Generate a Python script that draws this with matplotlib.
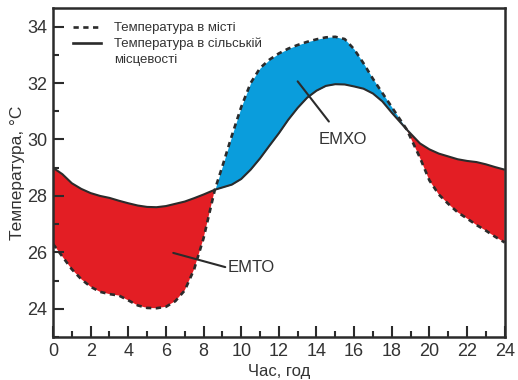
import matplotlib
matplotlib.use("Agg")
import matplotlib.pyplot as plt
from matplotlib.lines import Line2D
from matplotlib.ticker import MultipleLocator

plt.rcParams['font.family'] = ['Liberation Sans', 'DejaVu Sans']

hours = [0, 0.5, 1, 1.5, 2, 2.5, 3, 3.5, 4, 4.5, 5, 5.5, 6, 6.5, 7, 7.5, 8, 8.6,
         9, 9.5, 10, 10.5, 11, 11.5, 12, 12.5, 13, 13.5, 14, 14.5, 15, 15.5, 16,
         16.5, 17, 17.5, 18, 18.8, 19.5, 20, 20.5, 21, 21.5, 22, 22.5, 23, 23.5, 24]

rural = [29.0, 28.77, 28.45, 28.25, 28.1, 28.0, 27.93, 27.83, 27.74, 27.66, 27.61,
         27.6, 27.64, 27.72, 27.8, 27.92, 28.05, 28.22, 28.3, 28.4, 28.6, 28.93,
         29.33, 29.78, 30.22, 30.7, 31.12, 31.48, 31.73, 31.9, 31.96, 31.95, 31.88,
         31.8, 31.63, 31.35, 30.95, 30.35, 29.86, 29.65, 29.5, 29.4, 29.3, 29.24,
         29.2, 29.12, 29.02, 28.93]

urban = [26.3, 25.85, 25.4, 25.05, 24.78, 24.6, 24.52, 24.47, 24.3, 24.12, 24.03,
         24.02, 24.07, 24.27, 24.65, 25.4, 26.5, 28.22, 29.05, 30.13, 31.15, 32.0,
         32.53, 32.83, 33.05, 33.22, 33.35, 33.46, 33.55, 33.62, 33.64, 33.56, 33.2,
         32.7, 32.15, 31.65, 31.15, 30.35, 29.35, 28.55, 28.05, 27.72, 27.42, 27.2,
         26.97, 26.77, 26.55, 26.35]

x_ticks = [0, 2, 4, 6, 8, 10, 12, 14, 16, 18, 20, 22, 24]
y_ticks = [24, 26, 28, 30, 32, 34]

label_urban = "Температура в місті"
label_rural = "Температура в сільській"
label_rural_2 = "місцевості"
label_emto = "ЕМТО"
label_emxo = "ЕМХО"

RED = "#E31E24"
BLUE = "#0A9DDC"
DARK = "#2b2b2b"
TXT = "#333333"

fig = plt.figure(figsize=(5.18, 3.80), dpi=100)
ax = fig.add_axes([0.1023, 0.1132, 0.872, 0.8657])

ax.fill_between(hours, urban, rural, where=[u <= r for u, r in zip(urban, rural)],
                interpolate=True, color=RED, linewidth=0)
ax.fill_between(hours, urban, rural, where=[u >= r for u, r in zip(urban, rural)],
                interpolate=True, color=BLUE, linewidth=0)
ax.plot(hours, rural, color=DARK, lw=1.5, solid_capstyle='butt')
ax.plot(hours, urban, color=DARK, lw=1.9, linestyle=(0, (2.0, 1.7)))

ax.set_xlim(0, 24)
ax.set_ylim(23.0, 34.66)
ax.set_xticks(x_ticks)
ax.set_yticks(y_ticks)
ax.xaxis.set_minor_locator(MultipleLocator(1))
ax.yaxis.set_minor_locator(MultipleLocator(1))
ax.tick_params(axis='both', which='major', direction='in', length=8, width=1.5,
               color=DARK, labelsize=13, labelcolor=TXT, pad=4)
ax.tick_params(axis='both', which='minor', direction='in', length=4.5, width=1.5,
               color=DARK)
for s in ax.spines.values():
    s.set_linewidth(1.8)
    s.set_color(DARK)

ax.set_xlabel("Час, год", fontsize=12, color=TXT, labelpad=3)
ax.set_ylabel("Температура, °С", fontsize=12.5, color=TXT, labelpad=2)

handles = [Line2D([], [], color=DARK, lw=1.9, linestyle=(0, (2.0, 1.7))),
           Line2D([], [], color=DARK, lw=1.9),
           Line2D([], [], color='none', lw=0)]
leg = ax.legend(handles, [label_urban, label_rural, label_rural_2], loc='upper left',
                bbox_to_anchor=(0.044, 0.957), frameon=False, fontsize=9.5,
                handlelength=2.1, handletextpad=1.0, labelspacing=0.25,
                borderaxespad=0.0, borderpad=0.0)
for t in leg.get_texts():
    t.set_color(TXT)

ax.annotate(label_emto, xy=(6.39, 25.98), xytext=(9.3, 25.45),
            fontsize=12, color=TXT, va='center', ha='left',
            arrowprops=dict(arrowstyle='-', color=DARK, lw=1.5,
                            shrinkA=0, shrinkB=0, relpos=(0, 0.5)))
ax.annotate(label_emxo, xy=(13.0, 32.06), xytext=(15.4, 30.0),
            fontsize=12, color=TXT, va='center', ha='center',
            arrowprops=dict(arrowstyle='-', color=DARK, lw=1.5,
                            shrinkA=7, shrinkB=0))

fig.savefig("out.png", dpi=100)
